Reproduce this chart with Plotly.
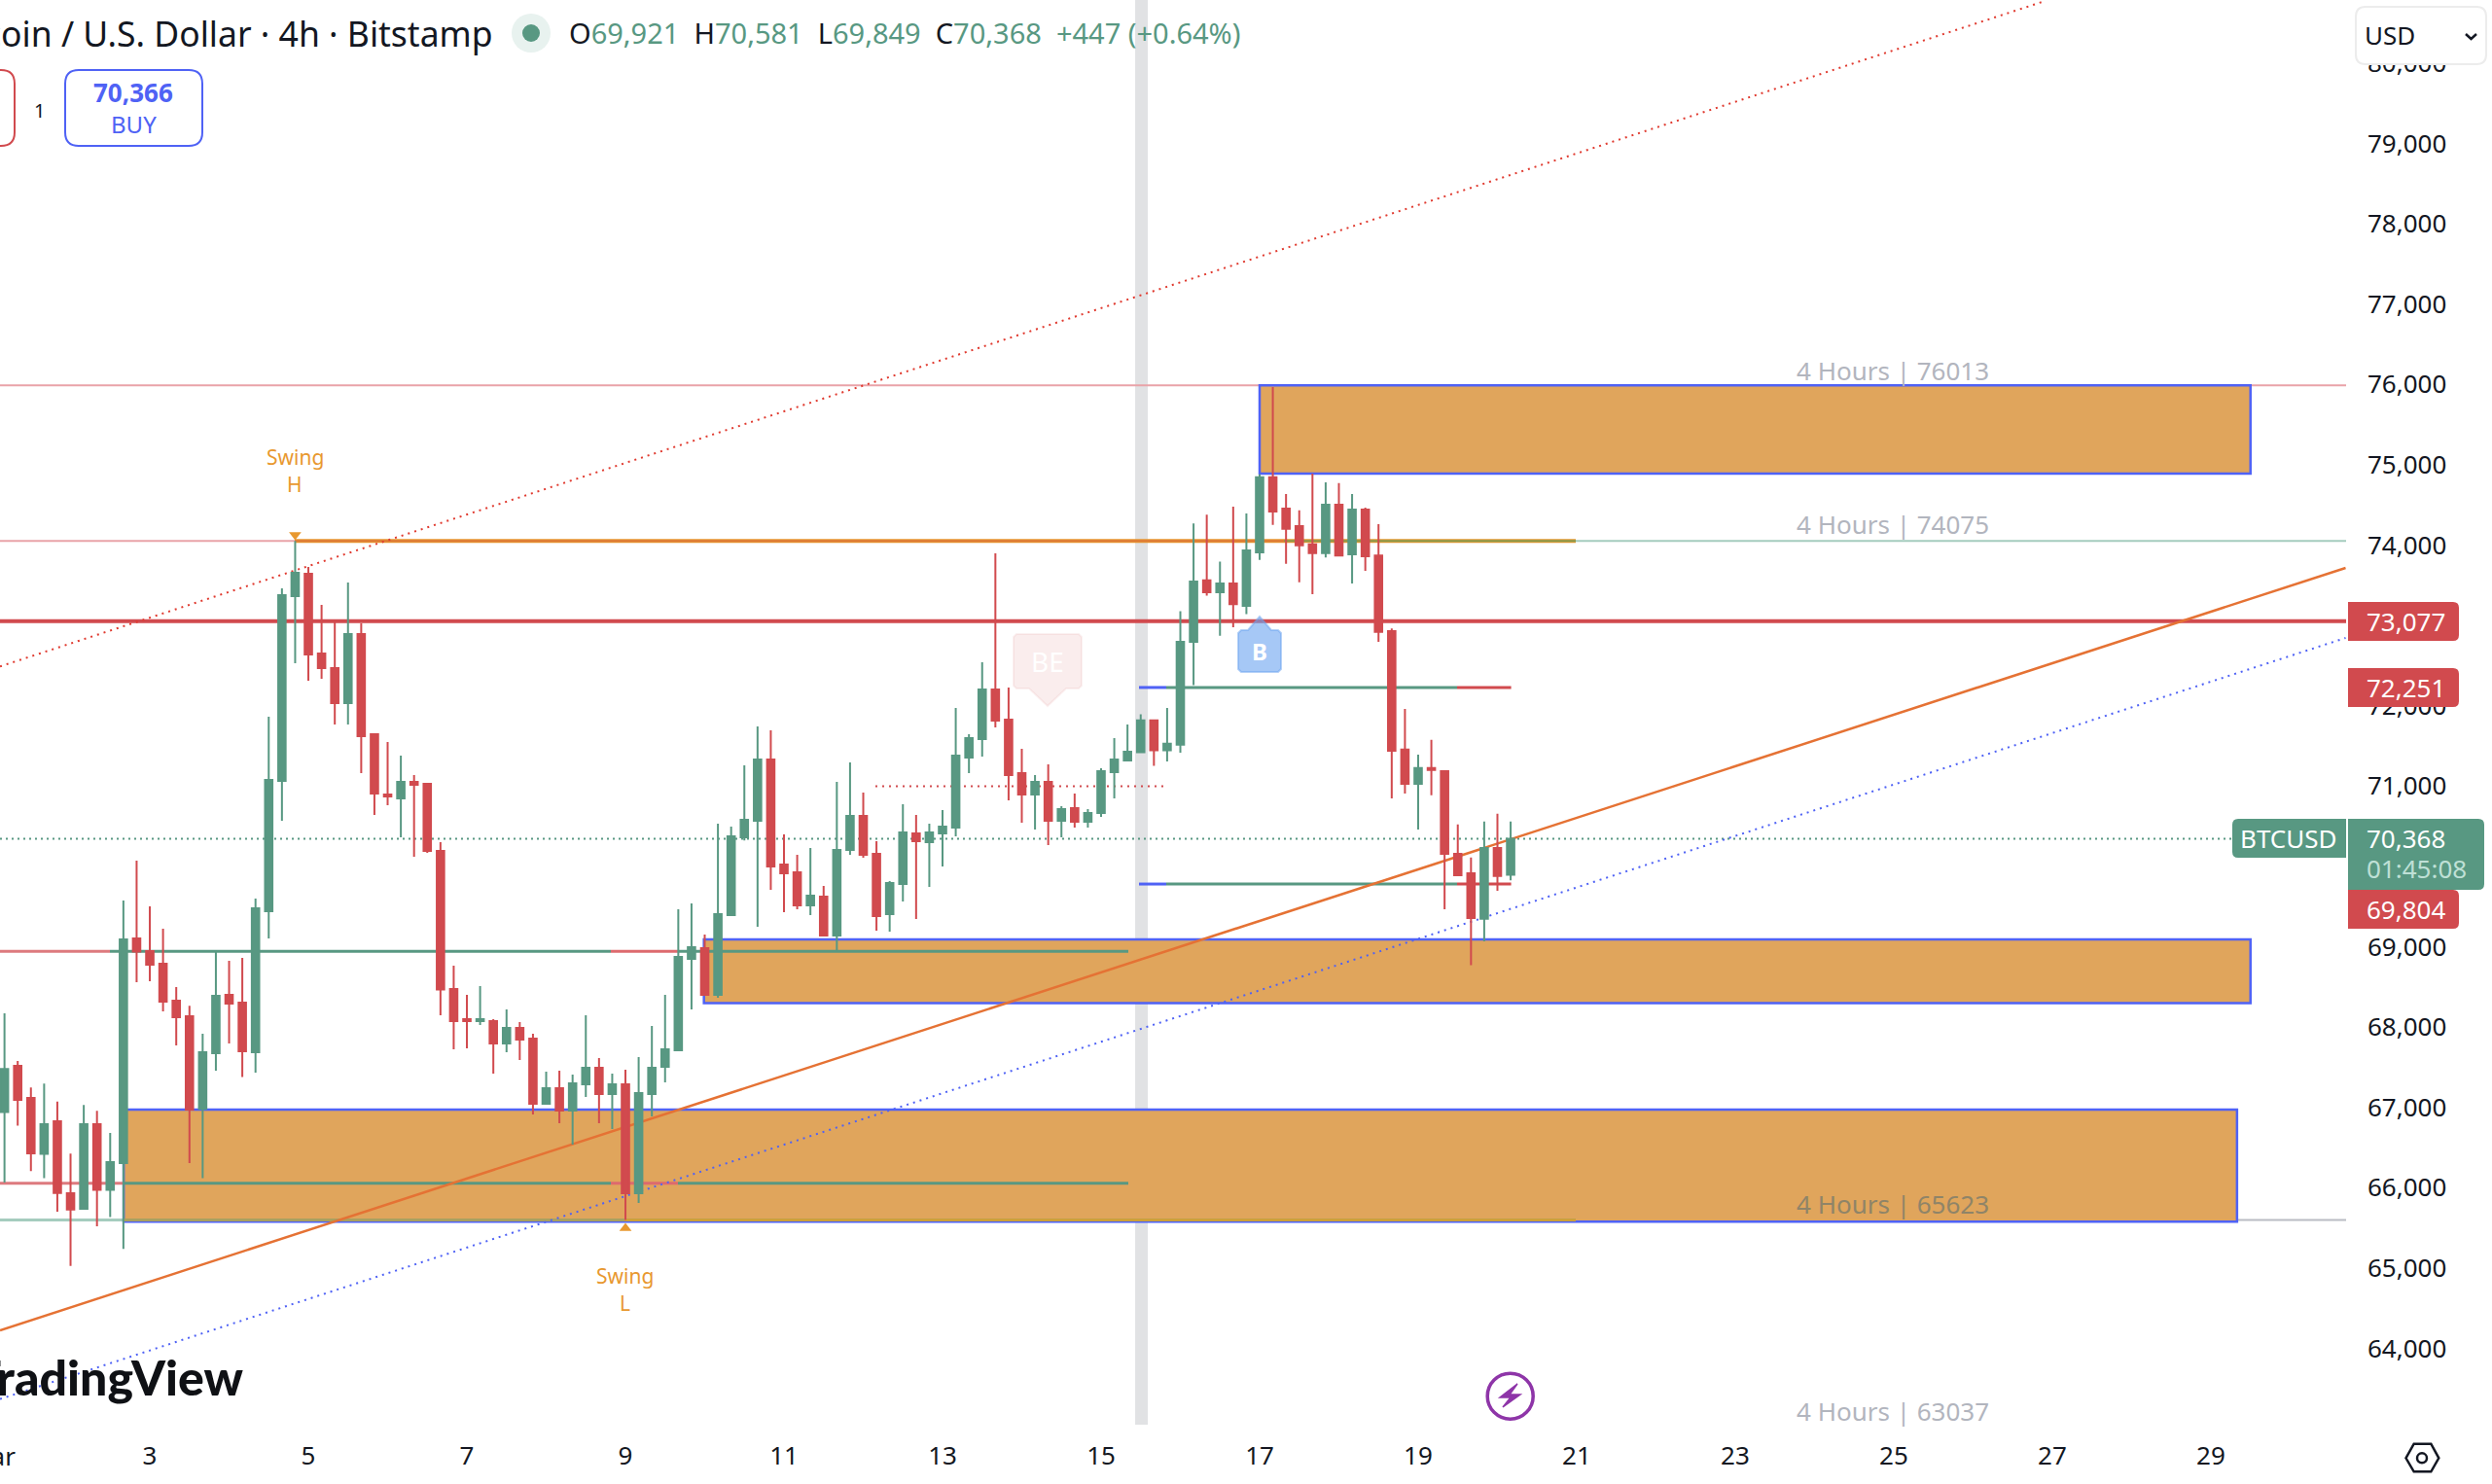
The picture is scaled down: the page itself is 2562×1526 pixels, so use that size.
import plotly.graph_objects as go

# --- 4h BTC/USD candles, oldest first; x is the day of March ---
FIRST_DAY = 3 - 11 / 6
OPEN = [66964, 67541, 67142, 66444, 66851, 65955, 65761, 66815, 65996, 66331, 69127, 68970,
        68812, 68353, 68159, 67005, 67699, 68425, 68328, 67711, 69466, 71089, 73389, 73668,
        72675, 72493, 72057, 72917, 71670, 70919, 70871, 71076, 71052, 70217, 68497, 68123,
        68098, 68098, 67820, 68014, 67880, 67069, 67263, 66984, 67311, 67517, 67190, 67311,
        65955, 67190, 67529, 67735, 68872, 69005, 68424, 69417, 70385, 70591, 71354, 70046,
        69950, 69538, 69647, 69163, 70228, 70652, 70180, 69429, 69804, 70434, 70325, 70434,
        70506, 71378, 71608, 72226, 71851, 71185, 70918, 71076, 70591, 70749, 70579, 70688,
        71197, 71342, 71445, 71842, 71468, 71540, 72818, 73584, 73436, 73546, 73268, 73934,
        74867, 74479, 74259, 74034, 73924, 74527, 73910, 74465, 73895, 72952, 71478, 71052,
        71248, 71210, 70181, 69937, 69372, 70253, 69921]
HIGH = [68195, 67602, 67271, 67319, 67097, 66448, 67053, 66980, 66706, 69599, 70096, 69527,
        69248, 68522, 68288, 67941, 68982, 68849, 68885, 69624, 71888, 73486, 74075, 73752,
        73280, 73070, 73559, 73050, 71670, 71573, 71403, 71161, 71052, 70326, 68788, 68425,
        68534, 68123, 68244, 68086, 67941, 67469, 67481, 67432, 68171, 67638, 67444, 67493,
        67650, 68038, 68425, 69489, 69562, 69175, 70555, 70519, 71281, 71766, 71717, 70422,
        70167, 70252, 69780, 71076, 71318, 70942, 70337, 69841, 70797, 70664, 70555, 70724,
        71996, 71669, 72565, 73921, 72250, 71487, 71160, 71294, 70773, 70930, 70737, 71245,
        71620, 71790, 71918, 71842, 71995, 73201, 74293, 74403, 73819, 74503, 74417, 74906,
        75992, 74661, 74456, 74915, 74805, 74795, 74661, 74489, 74283, 72986, 71985, 71416,
        71598, 71210, 70545, 70133, 70583, 70678, 70581]
LOW = [66088, 66795, 66230, 66141, 65725, 65051, 65753, 65543, 65657, 65261, 68582, 68594,
       68219, 67796, 66331, 66141, 67481, 67820, 67400, 67457, 69127, 70592, 72554, 72336,
       72360, 71791, 71791, 71185, 70665, 70786, 70386, 70144, 70193, 68171, 67747, 67759,
       68050, 67444, 67711, 67614, 66936, 67069, 66827, 66561, 67154, 66827, 66754, 65623,
       65834, 66912, 67336, 67735, 68242, 68424, 68388, 69417, 70345, 69272, 69732, 69453,
       69489, 69417, 69163, 68973, 70167, 70131, 69223, 69211, 69586, 69368, 69768, 70022,
       70397, 71185, 71390, 71754, 70846, 70567, 70482, 70289, 70385, 70507, 70507, 70640,
       70870, 71342, 71445, 71277, 71330, 71440, 72282, 73393, 72895, 73000, 73163, 73838,
       74274, 73790, 73560, 73412, 73871, 73881, 73546, 73704, 72818, 70870, 70932, 70482,
       70908, 69491, 69903, 68793, 69089, 69721, 69849]
CLOSE = [67501, 67118, 66452, 66815, 65959, 65753, 66815, 65996, 66343, 69115, 68962, 68800,
         68340, 68147, 66997, 67711, 68413, 68316, 67723, 69502, 71101, 73401, 73680, 72663,
         72493, 72057, 72917, 71646, 70931, 70895, 71076, 71040, 70217, 68490, 68098, 68098,
         68123, 67820, 68014, 67868, 67069, 67263, 66984, 67323, 67517, 67190, 67311, 65955,
         67202, 67517, 67747, 68896, 69017, 68424, 69429, 70398, 70603, 71354, 70022, 69937,
         69538, 69659, 69163, 70228, 70652, 70167, 69405, 69816, 70446, 70337, 70446, 70519,
         71402, 71620, 72226, 71838, 71160, 70918, 71076, 70591, 70737, 70579, 70688, 71209,
         71354, 71451, 71842, 71468, 71550, 72818, 73570, 73436, 73546, 73287, 73958, 74867,
         74441, 74226, 74020, 73924, 74527, 73895, 74465, 73886, 72943, 71464, 71052, 71248,
         71224, 70181, 69913, 69381, 70253, 69903, 70368]

# --- levels, zones and trend channels (price / day of March) ---
LEVEL_HIGH = 76013
LEVEL_MID = 74075
LEVEL_STOP = 73077
LEVEL_LOW = 65623
LEVEL_BELOW = 63037
LAST_PRICE = 70368
ORDER_UPPER = 72251
ORDER_LOWER = 69804
BAND_A = 68966
BAND_B = 66080
SESSION_DOTTED = 71020
ZONES = [(17.0, 29.5, 74915, 76013), (9.99, 29.5, 68320, 69115), (2.67, 29.33, 65600, 66996)]
TREND_ORANGE = ((1.11, 64248), (30.7, 73740))
TREND_RED = ((1.11, 72513), (26.91, 80798))
TREND_BLUE = ((1.11, 63392), (30.7, 72868))
SESSION_BAND = (15.43, 15.59)
SWING_HIGH = (4.833, 74150)
SWING_LOW = (9.0, 65519)

PRICE_TICKS = list(range(64000, 81000, 1000))
DAY_TICKS = list(range(3, 30, 2))

W, H = 2562, 1526
PANE_R, PANE_B = 2412, 1465
DAY_L, DAY_R = 1.11, 30.706
PRICE_T, PRICE_B = 80810, 63073

GREEN = "#589882"
RED = "#d14a4e"
BLUE = "#4f62f5"
ORANGE = "#e8982f"
TREND = "#e57234"
ZONE = "#e0a55c"
PINK = "#e9a3a8"
PALE = "#a5ccbe"
INK = "#131722"
GRAY = "#b2b5be"
FONT = "Noto Sans"


def fx(px):
    return px / W


def fy(py):
    return 1 - py / H


def px_day(px):
    return DAY_L + (DAY_R - DAY_L) * px / PANE_R


def hline(x0, x1, price, color, width=3, dash=None):
    return dict(type="line", xref="x", yref="y", x0=x0, x1=x1, y0=price, y1=price, layer="below",
                line=dict(color=color, width=width, dash=dash))


def trend(pts, color, width, dash=None):
    (a, b), (c, d) = pts
    return dict(type="line", xref="x", yref="y", x0=a, y0=b, x1=c, y1=d, layer="below",
                line=dict(color=color, width=width, dash=dash))


def round_box(x0, y0, x1, y1, r=6, fill=RED, line=None, lw=0, left=True, right=True, layer="above"):
    rl = r if left else 0
    rr = r if right else 0
    X, Y = fx, fy
    p = (f"M{X(x0 + rl)},{Y(y0)} L{X(x1 - rr)},{Y(y0)} Q{X(x1)},{Y(y0)} {X(x1)},{Y(y0 + rr)} "
         f"L{X(x1)},{Y(y1 - rr)} Q{X(x1)},{Y(y1)} {X(x1 - rr)},{Y(y1)} L{X(x0 + rl)},{Y(y1)} "
         f"Q{X(x0)},{Y(y1)} {X(x0)},{Y(y1 - rl)} L{X(x0)},{Y(y0 + rl)} Q{X(x0)},{Y(y0)} {X(x0 + rl)},{Y(y0)} Z")
    return dict(type="path", xref="paper", yref="paper", path=p, fillcolor=fill, layer=layer,
                line=dict(color=line or "rgba(0,0,0,0)", width=lw))


def poly(points, fill=None, line=None, lw=0, layer="above"):
    p = "M" + " L".join(f"{fx(a)},{fy(b)}" for a, b in points) + " Z"
    return dict(type="path", xref="paper", yref="paper", path=p, layer=layer,
                fillcolor=fill or "rgba(0,0,0,0)", line=dict(color=line or "rgba(0,0,0,0)", width=lw))


def disc(cx, cy, r, fill=None, line=None, lw=0, layer="above"):
    return dict(type="circle", xref="paper", yref="paper", layer=layer,
                x0=fx(cx - r), x1=fx(cx + r), y0=fy(cy + r), y1=fy(cy - r),
                fillcolor=fill or "rgba(0,0,0,0)", line=dict(color=line or "rgba(0,0,0,0)", width=lw))


def label(x, y, text, size=26, color=INK, anchor="center", family=FONT, weight=None):
    font = dict(family=family, size=size, color=color)
    if weight:
        font["weight"] = weight
    return dict(xref="paper", yref="paper", x=fx(x), y=fy(y), text=text, showarrow=False,
                xanchor=anchor, yanchor="middle", align="center", borderpad=0, borderwidth=0,
                font=font)


days = [FIRST_DAY + i / 6 for i in range(len(OPEN))]

fig = go.Figure()
fig.add_trace(go.Candlestick(
    x=days, open=OPEN, high=HIGH, low=LOW, close=CLOSE, whiskerwidth=0,
    increasing=dict(line=dict(color=GREEN, width=2), fillcolor=GREEN),
    decreasing=dict(line=dict(color=RED, width=2), fillcolor=RED),
    showlegend=False, hoverinfo="skip",
))
fig.add_trace(go.Scatter(
    x=[SWING_HIGH[0]], y=[SWING_HIGH[1]], mode="markers", showlegend=False, hoverinfo="skip",
    marker=dict(symbol="triangle-down", size=11, color=ORANGE),
))
fig.add_trace(go.Scatter(
    x=[SWING_LOW[0]], y=[SWING_LOW[1]], mode="markers", showlegend=False, hoverinfo="skip",
    marker=dict(symbol="triangle-up", size=11, color=ORANGE),
))

d = px_day
shapes = []

# horizontal levels that sit behind the zones
shapes += [hline(DAY_L, DAY_R, LEVEL_HIGH, PINK, 2)]
shapes += [hline(DAY_L, d(127), LEVEL_LOW, PALE, 3), hline(d(1620), DAY_R, LEVEL_LOW, "#b9bcc4", 2)]

# supply / demand zones
for x0, x1, lo, hi in ZONES:
    shapes.append(dict(type="rect", xref="x", yref="y", x0=x0, x1=x1, y0=lo, y1=hi, layer="below",
                       fillcolor=ZONE, line=dict(color=BLUE, width=2.5)))

# main levels
shapes += [
    hline(DAY_L, d(303), LEVEL_MID, PINK, 2),
    hline(d(303), d(1620), LEVEL_MID, ORANGE, 4),
    hline(d(303), d(1320), LEVEL_MID, "#de7a38", 2),
    hline(d(1320), d(1620), LEVEL_MID, "#8b9a4e", 2),
    hline(d(1620), DAY_R, LEVEL_MID, PALE, 2),
    hline(DAY_L, DAY_R, LEVEL_STOP, RED, 4),
    hline(d(127), d(1620), LEVEL_LOW, "#a8a060", 3),
    hline(d(642), d(1620), LEVEL_LOW, "#d9a02c", 2),
]

# stepped bands on the left of the chart
for level, first in ((BAND_A, 113), (BAND_B, 127)):
    shapes += [
        hline(DAY_L, d(first), level, "#dd7a7e", 3),
        hline(d(first), d(628), level, GREEN, 3),
        hline(d(628), d(697), level, "#dd6a6e", 3),
        hline(d(697), d(1160), level, GREEN, 3),
    ]

# order brackets to the right of the session band
for level in (ORDER_UPPER, ORDER_LOWER):
    shapes += [
        hline(d(1171), d(1199), level, BLUE, 3),
        hline(d(1199), d(1498), level, GREEN, 3),
        hline(d(1498), d(1553.6), level, RED, 3),
    ]

shapes += [
    hline(d(900), d(1199), SESSION_DOTTED, RED, 2, "2px,5px"),
    hline(DAY_L, d(2295), LAST_PRICE, GREEN, 2, "2px,4px"),
    trend(TREND_RED, "#e03a2f", 2, "2px,5px"),
    trend(TREND_BLUE, BLUE, 2, "2px,5px"),
    trend(TREND_ORANGE, TREND, 2.5),
    dict(type="rect", xref="x", yref="paper", x0=SESSION_BAND[0], x1=SESSION_BAND[1],
         y0=fy(PANE_B), y1=1, layer="below", fillcolor="rgba(120,123,134,0.22)", line=dict(width=0)),
]

# execution markers
shapes += [
    poly([(1045, 652), (1109, 652), (1112, 655), (1112, 705), (1109, 708), (1096, 708), (1077, 726),
          (1058, 708), (1045, 708), (1042, 705), (1042, 655)],
         fill="rgba(209,74,78,0.10)", line="rgba(209,74,78,0.08)", lw=2),
    poly([(1276, 648), (1283, 648), (1295, 634), (1307, 648), (1314, 648), (1317, 651), (1317, 688),
          (1314, 691), (1276, 691), (1273, 688), (1273, 651)],
         fill="rgba(107,163,240,0.60)", line="rgba(107,163,240,0.50)", lw=2),
]

# header
shapes += [
    disc(546, 34, 20, fill="#e8f2ef"),
    disc(546, 34, 9, fill=GREEN),
    round_box(-20, 72, 15, 150, r=14, fill="#ffffff", line=RED, lw=2),
    round_box(67, 72, 208, 150, r=14, fill="#ffffff", line=BLUE, lw=2),
]

# lightning button
shapes += [
    disc(1552.7, 1435.7, 23.5, line="#8e35a8", lw=3.5),
    poly([(1560, 1423), (1542, 1437), (1553, 1437), (1545, 1447), (1563, 1434), (1552, 1434)],
         fill="#8e35a8", line="#8e35a8", lw=1.5),
]

# currency selector and settings hexagon
shapes += [
    round_box(2422, 7, 2556, 66, r=10, fill="#ffffff", line="#ececec", lw=2),
    dict(type="path", xref="paper", yref="paper", layer="above", fillcolor="rgba(0,0,0,0)",
         path=f"M{fx(2535)},{fy(35)} L{fx(2540.5)},{fy(40)} L{fx(2546)},{fy(35)}",
         line=dict(color=INK, width=2.5)),
    poly([(2473.5, 1499.3), (2481.7, 1484.7), (2499.3, 1484.7), (2507.3, 1499.3), (2499.3, 1513.3),
          (2481.7, 1513.3)], line=INK, lw=2.5),
    disc(2490, 1499.3, 5, line=INK, lw=2.5),
]

# price scale tags
shapes += [
    round_box(2414, 619, 2528, 659, left=False),
    round_box(2414, 687, 2528, 727, left=False),
    round_box(2414, 915, 2528, 955, left=False),
    round_box(2414, 842, 2554, 915, fill=GREEN, left=False),
    round_box(2295, 842, 2412, 882, fill=GREEN, right=False),
]

ohlc = ("O<span style='color:{g}'>69,921</span>  H<span style='color:{g}'>70,581</span>  "
        "L<span style='color:{g}'>69,849</span>  C<span style='color:{g}'>70,368</span>  "
        "<span style='color:{g}'>+447 (+0.64%)</span>").format(g=GREEN)

annotations = [
    label(507, 34, "Bitcoin / U.S. Dollar · 4h · Bitstamp", 35.5, INK, "right"),
    label(585, 34, ohlc, 29, INK, "left"),
    label(40, 113, "1", 20, INK),
    label(137, 95, "<b>70,366</b>", 26, BLUE),
    label(137, 128, "BUY", 24, BLUE),
    label(303, 470, "Swing", 21, ORANGE),
    label(303, 498, "H", 21, ORANGE),
    label(642, 1312, "Swing", 21, ORANGE),
    label(642, 1340, "L", 21, ORANGE),
    label(1946, 381, f"4 Hours | {LEVEL_HIGH}", 26, GRAY),
    label(1946, 539, f"4 Hours | {LEVEL_MID}", 26, GRAY),
    label(1946, 1238, f"4 Hours | {LEVEL_LOW}", 26, "#8f8468"),
    label(1946, 1451, f"4 Hours | {LEVEL_BELOW}", 26, GRAY),
    label(1077, 680, "BE", 28, "#ffffff"),
    label(1295, 669, "<b>B</b>", 24, "#ffffff"),
    label(250, 1416, "TradingView", 50, "#0f1115", "right", "Lato", 900),
    label(-9, 1497, "Mar", 26, INK),
    label(2431, 36, "USD", 26, INK, "left"),
    label(2433, 639, "73,077", 26, "#ffffff", "left"),
    label(2433, 707, "72,251", 26, "#ffffff", "left"),
    label(2433, 862, "70,368", 26, "#ffffff", "left"),
    label(2433, 893, "01:45:08", 26, "#bfe0d6", "left"),
    label(2433, 935, "69,804", 26, "#ffffff", "left"),
    label(2353, 862, "BTCUSD", 26, "#ffffff"),
]

fig.update_layout(
    width=W, height=H, autosize=False,
    margin=dict(l=0, r=0, t=0, b=0, pad=0),
    paper_bgcolor="#ffffff", plot_bgcolor="#ffffff",
    boxgap=0.2,
    shapes=shapes, annotations=annotations,
    font=dict(family=FONT, size=26, color=INK),
    showlegend=False,
    xaxis=dict(
        domain=[0, PANE_R / W], range=[DAY_L, DAY_R], type="linear",
        rangeslider=dict(visible=False), showgrid=False, zeroline=False, showline=False,
        tickmode="array", tickvals=DAY_TICKS, ticktext=[str(v) for v in DAY_TICKS],
        ticks="", ticklabelstandoff=14, tickfont=dict(family=FONT, size=26, color=INK),
    ),
    yaxis=dict(
        domain=[1 - PANE_B / H, 1], range=[PRICE_B, PRICE_T], side="right", type="linear",
        showgrid=False, zeroline=False, showline=False,
        tickmode="array", tickvals=PRICE_TICKS, ticktext=[f"{v:,}" for v in PRICE_TICKS],
        ticks="", ticklabelstandoff=21, ticklabelshift=-2, tickfont=dict(family=FONT, size=26, color=INK),
    ),
)

fig.write_html("out.html", config=dict(displayModeBar=False))
